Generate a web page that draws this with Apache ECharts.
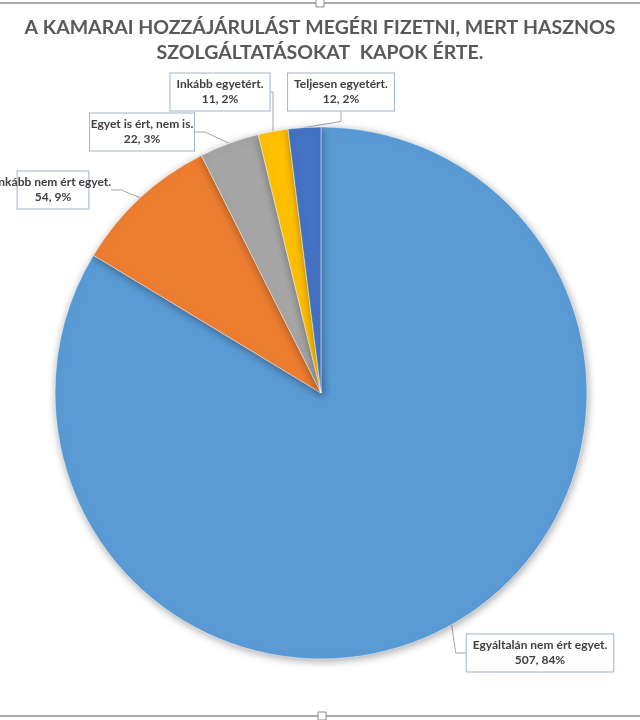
<!DOCTYPE html>
<html>
<head>
<meta charset="utf-8">
<title>A kamarai hozzájárulás</title>
<script src="https://cdn.jsdelivr.net/npm/echarts@6/dist/echarts.min.js"></script>
<style>
  html, body { margin: 0; padding: 0; background: #fff; }
  #chart { width: 640px; height: 720px; }
</style>
</head>
<body>
<div id="chart"></div>
<script>
// adatok
var categories = ['Egyáltalán nem ért egyet.', 'Inkább nem ért egyet.', 'Egyet is ért, nem is.', 'Inkább egyetért.', 'Teljesen egyetért.'];
var values = [507, 54, 22, 11, 12];
var pctLabels = [84, 9, 3, 2, 2];
var colors = ['#5B9BD5', '#ED7D31', '#A5A5A5', '#FFC000', '#4472C4'];

// cimkek helye (doboz kozepe)
var labelPos = [[540, 653], [53, 190], [142, 132], [220, 92], [341, 92]];

var chart = echarts.init(document.getElementById('chart'));

var pieData = [];
for (var i = 0; i < categories.length; i++) {
  pieData.push({ name: categories[i], value: values[i], itemStyle: { color: colors[i] } });
}

var option = {
  animation: false,
  title: {
    text: 'A KAMARAI HOZZÁJÁRULÁST MEGÉRI FIZETNI, MERT HASZNOS\nSZOLGÁLTATÁSOKAT  KAPOK ÉRTE.',
    left: 'center',
    top: 10,
    padding: [5, 24, 5, 0],
    textStyle: {
      fontFamily: 'Lato, "Noto Sans", sans-serif',
      fontSize: 19.5,
      fontWeight: 'bold',
      color: '#595959',
      lineHeight: 25
    }
  },
  graphic: [
    { type: 'line', shape: { x1: 0, y1: 3, x2: 640, y2: 3 }, style: { stroke: '#8c8c8c', lineWidth: 1.5 } },
    { type: 'rect', shape: { x: 316, y: -1, width: 8, height: 8 }, style: { fill: '#fff', stroke: '#8c8c8c', lineWidth: 1 } },
    { type: 'line', shape: { x1: 0, y1: 716, x2: 640, y2: 716 }, style: { stroke: '#8c8c8c', lineWidth: 1.5 } },
    { type: 'rect', shape: { x: 318, y: 712, width: 8, height: 8 }, style: { fill: '#fff', stroke: '#8c8c8c', lineWidth: 1 } }
  ],
  series: [{
    type: 'pie',
    center: [321, 393],
    radius: 266,
    startAngle: 90,
    clockwise: true,
    data: pieData,
    itemStyle: {
      borderColor: '#fff',
      borderWidth: 0.5,
      shadowBlur: 8,
      shadowColor: 'rgba(0,0,0,0.35)',
      shadowOffsetX: 1,
      shadowOffsetY: 2
    },
    label: {
      show: true,
      position: 'outside',
      overflow: 'none',
      formatter: function (p) {
        return p.name + '\n' + p.value + ', ' + pctLabels[p.dataIndex] + '%';
      },
      fontFamily: 'Lato, "Noto Sans", sans-serif',
      fontSize: 12,
      fontWeight: 'bold',
      color: '#404040',
      lineHeight: 15,
      align: 'center',
      backgroundColor: '#fff',
      borderColor: '#9FB3CC',
      borderWidth: 1,
      padding: [4, 6, 3, 6]
    },
    labelLine: {
      show: true,
      length: 10,
      length2: 10,
      lineStyle: { color: '#A6A6A6', width: 1 }
    },
    labelLayout: function (params) {
      var pos = labelPos[params.dataIndex];
      return {
        x: pos[0],
        y: pos[1],
        align: 'center',
        verticalAlign: 'middle'
      };
    }
  }]
};

chart.setOption(option);
</script>
</body>
</html>
